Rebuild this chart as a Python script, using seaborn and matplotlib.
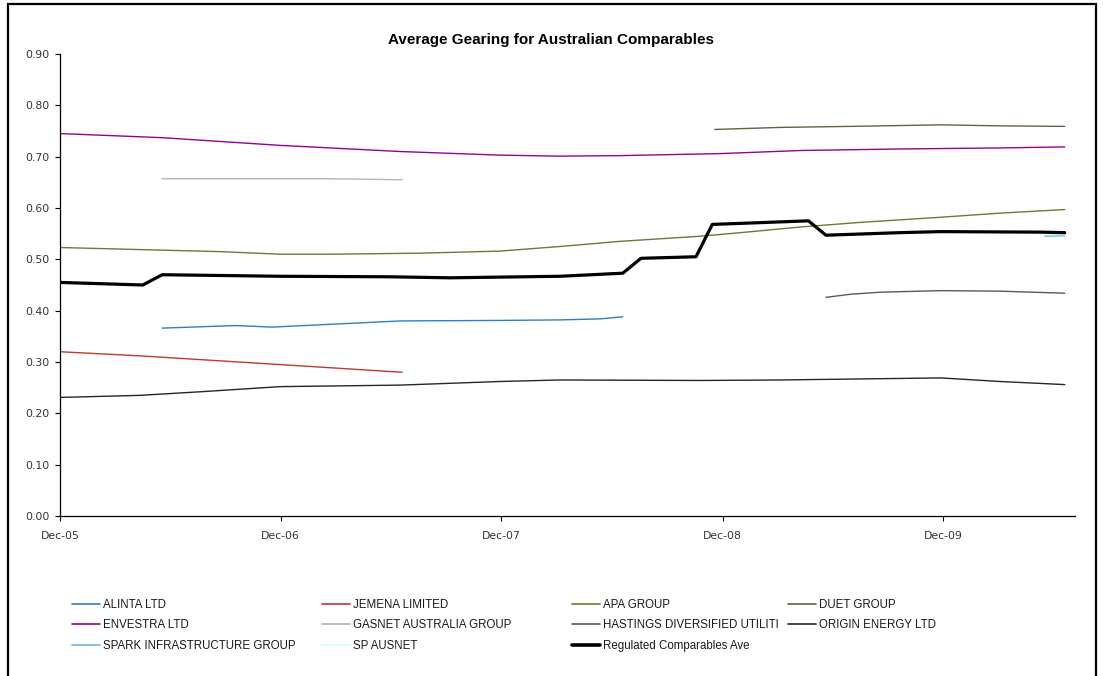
import numpy as np
import pandas as pd
import matplotlib
matplotlib.use("Agg")
import matplotlib.pyplot as plt
import matplotlib.dates as mdates
from matplotlib.patches import Rectangle
from matplotlib.lines import Line2D
import seaborn as sns

# ---------------- data ----------------
title = "Average Gearing for Australian Comparables"

alinta_dates = ["2006-05-19", "2006-09-17", "2006-11-17", "2007-06-17", "2007-11-28", "2008-03-07", "2008-05-12", "2008-06-19"]
alinta_vals = [0.366, 0.371, 0.368, 0.380, 0.381, 0.382, 0.384, 0.388]

jemena_dates = ["2005-12-01", "2006-04-12", "2006-11-30", "2007-06-20"]
jemena_vals = [0.320, 0.312, 0.295, 0.280]

apa_dates = ["2005-12-01", "2006-05-16", "2006-08-23", "2006-11-30", "2007-02-21", "2007-07-19", "2007-11-28",
             "2008-03-07", "2008-06-14", "2008-10-25", "2008-12-31", "2009-04-09", "2009-07-17", "2009-11-27",
             "2010-03-05", "2010-06-20"]
apa_vals = [0.523, 0.518, 0.515, 0.510, 0.510, 0.512, 0.516, 0.525, 0.535, 0.545, 0.552, 0.563, 0.572, 0.582, 0.590, 0.597]

duet_dates = ["2008-11-18", "2009-03-07", "2009-07-01", "2009-11-27", "2010-03-05", "2010-06-20"]
duet_vals = [0.753, 0.757, 0.759, 0.762, 0.760, 0.759]

envestra_dates = ["2005-12-01", "2006-05-19", "2006-11-30", "2007-06-17", "2007-11-28", "2008-03-07", "2008-06-14",
                  "2008-11-28", "2009-04-09", "2009-09-21", "2010-03-05", "2010-06-20"]
envestra_vals = [0.745, 0.737, 0.722, 0.710, 0.703, 0.701, 0.702, 0.706, 0.712, 0.715, 0.717, 0.719]

gasnet_dates = ["2006-05-19", "2007-02-21", "2007-06-20"]
gasnet_vals = [0.657, 0.657, 0.655]

hastings_dates = ["2009-05-21", "2009-07-01", "2009-08-19", "2009-11-27", "2010-03-05", "2010-06-20"]
hastings_vals = [0.426, 0.432, 0.436, 0.439, 0.438, 0.434]

origin_dates = ["2005-12-01", "2006-04-12", "2006-07-21", "2006-11-30", "2007-06-17", "2007-11-28", "2008-03-07",
                "2008-10-25", "2009-03-07", "2009-11-27", "2010-03-05", "2010-06-20"]
origin_vals = [0.231, 0.235, 0.242, 0.252, 0.255, 0.262, 0.265, 0.264, 0.265, 0.269, 0.262, 0.256]

spark_dates = ["2010-05-18", "2010-06-20"]
spark_vals = [0.545, 0.546]

spausnet_dates = ["2010-05-18", "2010-06-20"]
spausnet_vals = [0.550, 0.550]

reg_dates = ["2005-12-01", "2006-04-17", "2006-05-19", "2006-11-30", "2007-05-31", "2007-09-07", "2008-03-07",
             "2008-06-19", "2008-07-19", "2008-10-18", "2008-11-14", "2009-04-22", "2009-05-21", "2009-09-21",
             "2009-11-27", "2010-05-10", "2010-06-20"]
reg_vals = [0.455, 0.450, 0.470, 0.467, 0.466, 0.464, 0.467, 0.473, 0.502, 0.505, 0.568, 0.575, 0.547, 0.552,
            0.554, 0.553, 0.552]

series_names = ["ALINTA LTD", "JEMENA LIMITED", "APA GROUP", "DUET GROUP",
                "ENVESTRA LTD", "GASNET AUSTRALIA GROUP", "HASTINGS DIVERSIFIED UTILITI", "ORIGIN ENERGY LTD",
                "SPARK INFRASTRUCTURE GROUP", "SP AUSNET", "Regulated Comparables Ave"]
series_data = [(alinta_dates, alinta_vals), (jemena_dates, jemena_vals), (apa_dates, apa_vals),
               (duet_dates, duet_vals), (envestra_dates, envestra_vals), (gasnet_dates, gasnet_vals),
               (hastings_dates, hastings_vals), (origin_dates, origin_vals), (spark_dates, spark_vals),
               (spausnet_dates, spausnet_vals), (reg_dates, reg_vals)]
colors = ["#2f7fc1", "#c0392b", "#6b7b34", "#6b5e45",
          "#930093", "#b4b4b4", "#5a5a5a", "#262626",
          "#6bb8e6", "#ccffff", "#000000"]

y_ticks = [0.0, 0.1, 0.2, 0.3, 0.4, 0.5, 0.6, 0.7, 0.8, 0.9]
x_tick_dates = ["2005-12-01", "2006-12-01", "2007-12-01", "2008-12-01", "2009-12-01"]

# ---------------- figure ----------------
sns.set_theme(style="white")
plt.rcParams["font.family"] = ["DejaVu Sans"]

W, H = 1103, 676
fig = plt.figure(figsize=(W / 100, H / 100), dpi=100)
ax = fig.add_axes([60 / W, 1 - 516 / H, (1075 - 60) / W, (516 - 54) / H])

handles = []
for name, (d, v), c in zip(series_names, series_data, colors):
    lw = 2.3 if name.startswith("Regulated") else 1.0
    df = pd.DataFrame({"date": pd.to_datetime(d), "value": v})
    sns.lineplot(data=df, x="date", y="value", ax=ax, color=c, lw=lw, sort=False,
                 estimator=None, legend=False, zorder=3 if name.startswith("Regulated") else 2)
    handles.append(Line2D([0], [0], color=c, lw=2.6 if name.startswith("Regulated") else 1.2))

ax.set_xlim(pd.Timestamp("2005-12-01"), pd.Timestamp("2010-07-07"))
ax.set_ylim(0, 0.9)
ax.set_yticks(y_ticks)
ax.yaxis.set_major_formatter(matplotlib.ticker.FormatStrFormatter("%.2f"))
ax.set_xticks(pd.to_datetime(x_tick_dates))
ax.xaxis.set_major_formatter(mdates.DateFormatter("%b-%y"))
ax.set_xlabel("")
ax.set_ylabel("")
ax.grid(False)
for s in ["top", "right"]:
    ax.spines[s].set_visible(False)
for s in ["left", "bottom"]:
    ax.spines[s].set_color("#000000")
    ax.spines[s].set_linewidth(0.9)
ax.tick_params(axis="both", which="major", direction="out", length=3.5, width=0.8, color="#000000",
               labelsize=7.8, labelcolor="#333333", left=True, bottom=True, pad=4)
ax.tick_params(axis="x", pad=7)

fig.text(551 / W, 1 - 40 / H, title, ha="center", va="center", fontsize=11, fontweight="bold",
         family=["Liberation Sans", "DejaVu Sans"], color="#000000")

# legend: four columns placed like the reference
col_x = [72, 322, 572, 788]
col_items = [[0, 4, 8], [1, 5, 9], [2, 6, 10], [3, 7]]
for cx, items in zip(col_x, col_items):
    leg = fig.legend([handles[i] for i in items], [series_names[i] for i in items],
                     loc="upper left", bbox_to_anchor=(cx / W, 1 - 599 / H),
                     bbox_transform=fig.transFigure, frameon=False, ncol=1,
                     borderpad=0, borderaxespad=0, handlelength=2.4, handletextpad=0.25,
                     labelspacing=0.72,
                     prop={"family": ["Liberation Sans Narrow", "Liberation Sans"], "size": 8.3})
    for t in leg.get_texts():
        t.set_color("#1a1a1a")

# outer chart border
fig.patches.append(Rectangle((8 / W, -0.02), (1096 - 8) / W, 1.02 - 4 / H, transform=fig.transFigure,
                             fill=False, ec="black", lw=1.6))

fig.savefig("out.png", dpi=100)
